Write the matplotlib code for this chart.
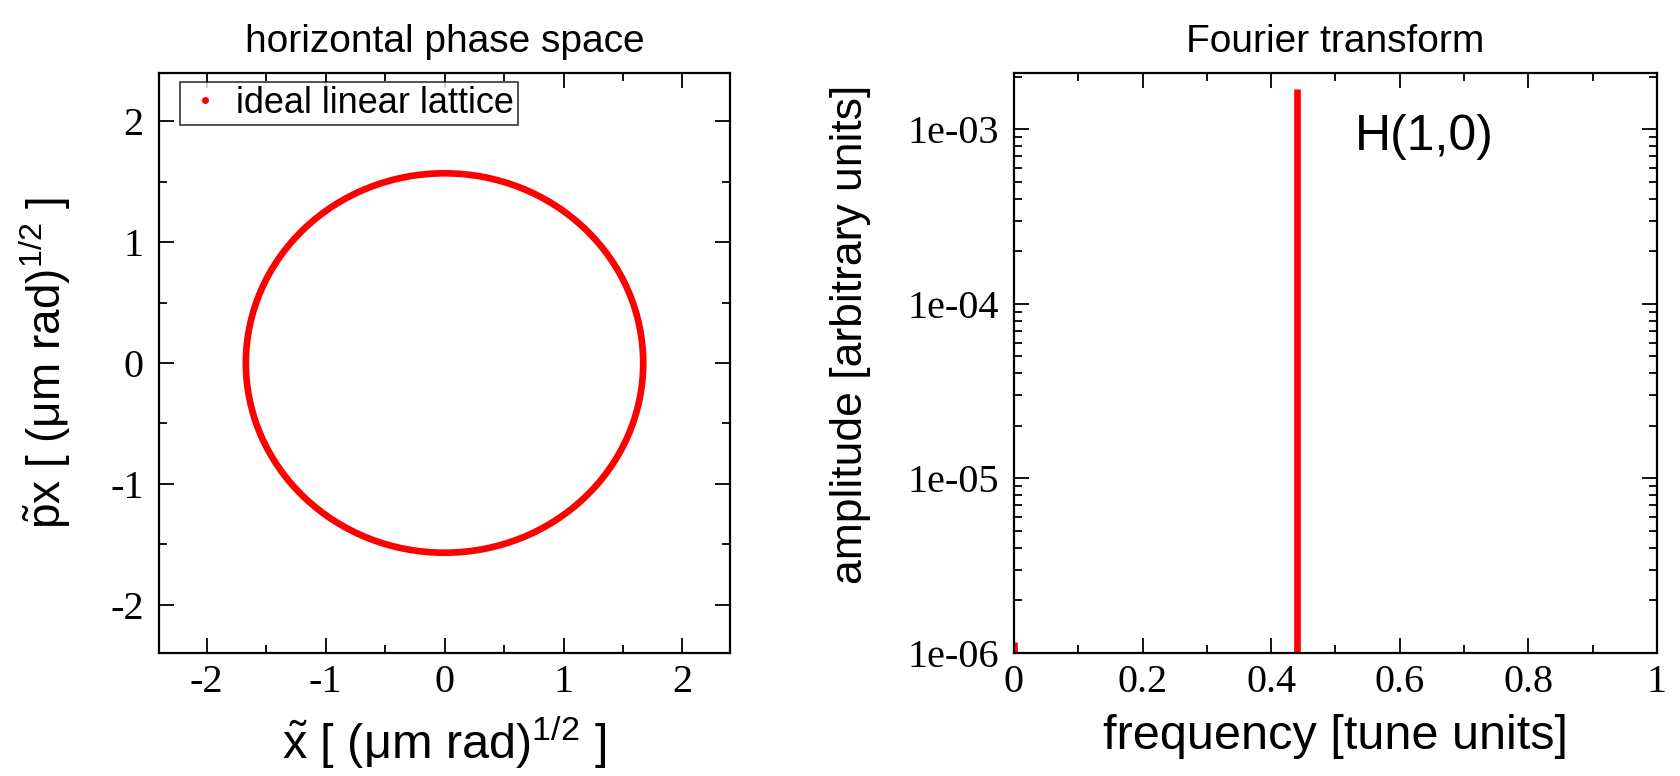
import matplotlib
matplotlib.use("Agg")
import matplotlib.pyplot as plt
from matplotlib.patches import Ellipse
from matplotlib.lines import Line2D
from matplotlib.ticker import MultipleLocator, LogLocator, FuncFormatter, NullFormatter

plt.rcParams['axes.unicode_minus'] = False
plt.rcParams['mathtext.fontset'] = 'custom'
plt.rcParams['mathtext.rm'] = 'Liberation Sans'
plt.rcParams['mathtext.it'] = 'Liberation Sans:italic'

# ---- data ----
# phase-space orbit (ideal linear lattice): semi-axes of the traced ellipse
orbit_center = (0.0, 0.0)
orbit_semi_x = 1.67
orbit_semi_px = 1.57
legend_label = "ideal linear lattice"

# Fourier spectrum lines
freqs = [0.0, 0.44]
amps = [1.15e-6, 1.7e-3]
peak_label = "H(1,0)"

left_xticks = [-2, -1, 0, 1, 2]
left_yticks = [-2, -1, 0, 1, 2]
right_xticks = [0, 0.2, 0.4, 0.6, 0.8, 1]
right_xticklabels = ['0', '0.2', '0.4', '0.6', '0.8', '1']
right_yticks = [1e-6, 1e-5, 1e-4, 1e-3]

RED = '#ff0000'
SANS = 'Liberation Sans'
SERIF = 'Liberation Serif'
TICK_FS = 29
LABEL_FS = 35
TITLE_FS = 28

fig = plt.figure(figsize=(16.81, 7.76), dpi=100)
ax1 = fig.add_axes([0.0946, 0.1585, 0.3397, 0.7474])
ax2 = fig.add_axes([0.6032, 0.1585, 0.3825, 0.7474])

def style(ax):
    for s in ax.spines.values():
        s.set_linewidth(1.6)
    ax.tick_params(which='both', direction='in', top=True, right=True, width=1.3)
    ax.tick_params(which='major', length=11)
    ax.tick_params(which='minor', length=5.5)
    ax.tick_params(axis='x', which='major', pad=8)
    ax.tick_params(axis='y', which='major', pad=11)
    for lab in ax.get_xticklabels() + ax.get_yticklabels():
        lab.set_fontfamily(SERIF)
        lab.set_fontsize(TICK_FS)

# ---- left panel ----
ell = Ellipse(orbit_center, width=2 * orbit_semi_x, height=2 * orbit_semi_px,
              fill=False, edgecolor=RED, linewidth=4.8)
ax1.add_patch(ell)
ax1.set_xlim(-2.4, 2.4)
ax1.set_ylim(-2.4, 2.4)
ax1.set_xticks(left_xticks)
ax1.set_yticks(left_yticks)
ax1.xaxis.set_minor_locator(MultipleLocator(0.5))
ax1.yaxis.set_minor_locator(MultipleLocator(0.5))
ax1.set_xticklabels([str(v) for v in left_xticks])
ax1.set_yticklabels([str(v) for v in left_yticks])
style(ax1)
ax1.set_title("horizontal phase space", fontfamily=SANS, fontsize=TITLE_FS, pad=15)
ax1.set_xlabel(r"$\tilde{\mathrm{x}}$ [ (μm rad)$^{1/2}$ ]", fontfamily=SANS, fontsize=LABEL_FS)
ax1.set_ylabel(r"$\tilde{\mathrm{p}}$x [ (μm rad)$^{1/2}$ ]", fontfamily=SANS, fontsize=LABEL_FS - 2)
ax1.xaxis.set_label_coords(0.5, -0.105)
ax1.yaxis.set_label_coords(-0.150, 0.5)
h = Line2D([], [], linestyle='none', marker='o', markersize=4, color=RED)
leg = ax1.legend([h], [legend_label], loc='upper left', bbox_to_anchor=(0.037, 0.984),
                 prop={'family': SANS, 'size': 26}, frameon=True, fancybox=False,
                 borderpad=0.1, handlelength=1.2, handletextpad=0.25, borderaxespad=0.0)
leg.get_frame().set_edgecolor('black')
leg.get_frame().set_linewidth(1.2)

# ---- right panel ----
ax2.vlines(freqs, 1e-6, amps, colors=RED, linewidth=4.8)
ax2.set_yscale('log')
ax2.set_xlim(0, 1)
ax2.set_ylim(1e-6, 2.1e-3)
ax2.set_xticks(right_xticks)
ax2.xaxis.set_minor_locator(MultipleLocator(0.1))
ax2.set_xticklabels(right_xticklabels)
ax2.set_yticks(right_yticks)
ax2.yaxis.set_major_formatter(FuncFormatter(lambda v, p: f"{v:.0e}"))
ax2.yaxis.set_minor_locator(LogLocator(base=10, subs=range(2, 10)))
ax2.yaxis.set_minor_formatter(NullFormatter())
style(ax2)
ax2.set_title("Fourier transform", fontfamily=SANS, fontsize=TITLE_FS, pad=15)
ax2.set_xlabel("frequency [tune units]", fontfamily=SANS, fontsize=LABEL_FS)
ax2.set_ylabel("amplitude [arbitrary units]", fontfamily=SANS, fontsize=LABEL_FS - 3)
ax2.xaxis.set_label_coords(0.5, -0.105)
ax2.yaxis.set_label_coords(-0.222, 0.55)
ax2.text(0.53, 0.89, peak_label, transform=ax2.transAxes, fontfamily=SANS, fontsize=36,
         ha='left', va='center')

fig.savefig("out.png", dpi=100)
